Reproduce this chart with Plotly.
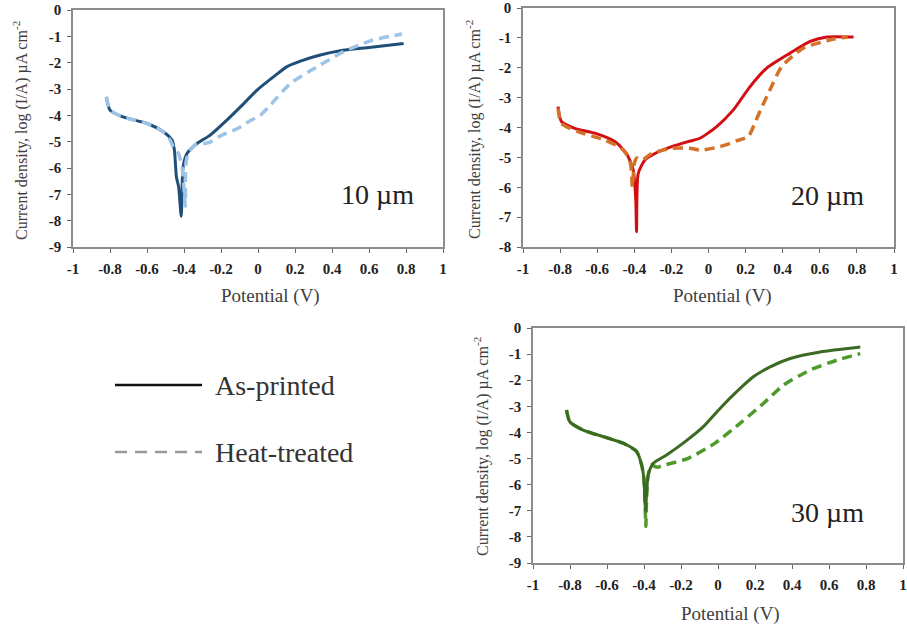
import plotly.graph_objects as go

# ---------------- data ----------------
# Panel 1: 10 um
ap10_x = [-0.82, -0.80, -0.73, -0.60, -0.51, -0.465, -0.452, -0.441, -0.429, -0.415, -0.405, -0.384, -0.33, -0.258, -0.168, -0.095, -0.005, 0.085, 0.157, 0.229, 0.337, 0.445, 0.589, 0.787]
ap10_y = [-3.3, -3.8, -4.06, -4.31, -4.63, -4.94, -5.32, -6.34, -6.72, -7.83, -5.96, -5.45, -5.07, -4.75, -4.18, -3.68, -3.04, -2.53, -2.15, -1.94, -1.71, -1.55, -1.43, -1.27]
ht10_x = [-0.82, -0.80, -0.73, -0.60, -0.51, -0.474, -0.455, -0.43, -0.41, -0.398, -0.393, -0.39, -0.375, -0.339, -0.267, -0.195, -0.11, -0.051, 0.012, 0.067, 0.175, 0.318, 0.463, 0.607, 0.778]
ht10_y = [-3.3, -3.8, -4.06, -4.31, -4.63, -4.95, -5.25, -5.45, -6.0, -7.0, -7.45, -5.83, -5.4, -5.13, -5.04, -4.75, -4.5, -4.24, -4.0, -3.61, -2.79, -2.16, -1.58, -1.17, -0.91]

# Panel 2: 20 um
ap20_x = [-0.811, -0.793, -0.721, -0.613, -0.505, -0.442, -0.406, -0.392, -0.388, -0.379, -0.343, -0.289, -0.199, -0.109, -0.046, 0.044, 0.134, 0.224, 0.314, 0.44, 0.548, 0.638, 0.782]
ap20_y = [-3.30, -3.80, -4.03, -4.19, -4.47, -4.87, -5.42, -6.43, -7.49, -5.54, -5.09, -4.87, -4.64, -4.47, -4.36, -3.97, -3.41, -2.63, -2.01, -1.51, -1.12, -0.97, -0.97]
ht20_x = [-0.811, -0.793, -0.703, -0.559, -0.469, -0.43, -0.418, -0.41, -0.40, -0.385, -0.36, -0.307, -0.199, -0.091, -0.046, 0.062, 0.15, 0.215, 0.25, 0.285, 0.323, 0.395, 0.512, 0.674, 0.75]
ht20_y = [-3.36, -3.86, -4.14, -4.42, -4.70, -5.0, -5.3, -6.0, -5.2, -5.02, -5.1, -4.87, -4.70, -4.70, -4.76, -4.64, -4.45, -4.3, -3.85, -3.35, -2.85, -1.96, -1.34, -1.04, -0.97]

# Panel 3: 30 um
ap30_x = [-0.819, -0.801, -0.729, -0.621, -0.513, -0.44, -0.413, -0.401, -0.395, -0.392, -0.385, -0.377, -0.35, -0.278, -0.188, -0.079, 0.011, 0.101, 0.191, 0.282, 0.39, 0.552, 0.769]
ap30_y = [-3.14, -3.59, -3.91, -4.16, -4.41, -4.73, -5.24, -5.75, -6.64, -7.0, -6.2, -5.62, -5.18, -4.86, -4.41, -3.78, -3.08, -2.44, -1.87, -1.49, -1.17, -0.92, -0.73]
ht30_x = [-0.819, -0.801, -0.729, -0.621, -0.513, -0.44, -0.413, -0.401, -0.395, -0.39, -0.386, -0.377, -0.36, -0.33, -0.29, -0.161, -0.016, 0.119, 0.245, 0.354, 0.498, 0.643, 0.769]
ht30_y = [-3.14, -3.59, -3.91, -4.16, -4.41, -4.73, -5.24, -5.75, -6.64, -7.6, -6.5, -5.62, -5.25, -5.33, -5.25, -4.99, -4.41, -3.65, -2.89, -2.19, -1.61, -1.23, -0.98]

x_tickvals = [-1, -0.8, -0.6, -0.4, -0.2, 0, 0.2, 0.4, 0.6, 0.8, 1]
x_ticktext = ["-1", "-0.8", "-0.6", "-0.4", "-0.2", "0", "0.2", "0.4", "0.6", "0.8", "1"]
y9_tickvals = [0, -1, -2, -3, -4, -5, -6, -7, -8, -9]
y9_ticktext = ["0", "-1", "-2", "-3", "-4", "-5", "-6", "-7", "-8", "-9"]
y8_tickvals = [0, -1, -2, -3, -4, -5, -6, -7, -8]
y8_ticktext = ["0", "-1", "-2", "-3", "-4", "-5", "-6", "-7", "-8"]

panel_labels = ["10 \u00b5m", "20 \u00b5m", "30 \u00b5m"]
legend_labels = ["As-printed", "Heat-treated"]
x_title = "Potential (V)"
y_title = "Current density, log (I/A) \u00b5A cm<sup>-2</sup>"

# ---------------- figure ----------------
W, H = 907, 629
SERIF = '"Liberation Serif", "Times New Roman", Times, serif'

def px(x):
    return x / W
def py(y):
    return 1 - y / H

fig = go.Figure()
DASH = "10px,6px"

def add(xs, ys, color, dash, xa, ya, width=3):
    fig.add_trace(go.Scatter(x=xs, y=ys, mode="lines", xaxis=xa, yaxis=ya,
                             line=dict(color=color, width=width, dash=dash, shape="spline", smoothing=0.6),
                             showlegend=False, hoverinfo="skip"))

add(ap10_x, ap10_y, "#1f4e79", "solid", "x", "y")
add(ht10_x, ht10_y, "#9dc3e6", DASH, "x", "y", 3.5)
add(ap20_x, ap20_y, "#d40d12", "solid", "x2", "y2")
add(ht20_x, ht20_y, "#d4722a", DASH, "x2", "y2", 3.5)
add(ht30_x, ht30_y, "#4f9a2c", DASH, "x3", "y3", 3.5)
add(ap30_x, ap30_y, "#3b6a22", "solid", "x3", "y3")

tickfont = dict(family=SERIF, size=15, color="#222", weight="bold")
common_ax = dict(showline=True, mirror=True, linecolor="#8c8c8c", linewidth=1.5,
                 ticks="outside", ticklen=4, tickcolor="#666", tickwidth=1,
                 showgrid=False, zeroline=False, tickfont=tickfont, fixedrange=True,
                 automargin=False, ticklabelstandoff=3)

panels = [
    dict(xd=[73, 443], yd=[10, 247], yr=[-9, 0], yt=(y9_tickvals, y9_ticktext)),
    dict(xd=[523, 894], yd=[8, 247], yr=[-8, 0], yt=(y8_tickvals, y8_ticktext)),
    dict(xd=[533, 903], yd=[328, 563], yr=[-9, 0], yt=(y9_tickvals, y9_ticktext)),
]
for i, p in enumerate(panels):
    sfx = "" if i == 0 else str(i + 1)
    fig.layout["xaxis" + sfx] = dict(common_ax, domain=[px(p["xd"][0]), px(p["xd"][1])], range=[-1, 1],
                                     tickvals=x_tickvals, ticktext=x_ticktext,
                                     anchor="y" + sfx)
    fig.layout["yaxis" + sfx] = dict(common_ax, domain=[py(p["yd"][1]), py(p["yd"][0])], range=p["yr"],
                                     tickvals=p["yt"][0], ticktext=p["yt"][1],
                                     anchor="x" + sfx)

annotations = []
title_font = dict(family=SERIF, size=19, color="#404040")
ytitle_font = dict(family=SERIF, size=16, color="#404040")
# x titles
for (cx, cy) in [(270, 296), (722, 296), (730, 614)]:
    annotations.append(dict(text=x_title, x=px(cx), y=py(cy), xref="paper", yref="paper",
                            showarrow=False, font=title_font, xanchor="center", yanchor="middle"))
# y titles
for (cx, cy) in [(20, 131), (473, 129), (482, 447)]:
    annotations.append(dict(text=y_title, x=px(cx), y=py(cy), xref="paper", yref="paper",
                            showarrow=False, font=ytitle_font, textangle=-90,
                            xanchor="center", yanchor="middle"))
# panel labels
for lbl, (cx, cy) in zip(panel_labels, [(377, 194), (827, 195), (827, 512)]):
    annotations.append(dict(text=lbl, x=px(cx), y=py(cy), xref="paper", yref="paper",
                            showarrow=False, font=dict(family=SERIF, size=28, color="#222"),
                            xanchor="center", yanchor="middle"))
# legend labels
for lbl, cy in zip(legend_labels, [385, 452]):
    annotations.append(dict(text=lbl, x=px(213), y=py(cy), xref="paper", yref="paper",
                            showarrow=False, font=dict(family=SERIF, size=28, color="#333"),
                            xanchor="left", yanchor="middle"))

shapes = [
    dict(type="line", xref="paper", yref="paper", x0=px(115), x1=px(202), y0=py(385), y1=py(385),
         line=dict(color="#111", width=2.5)),
    dict(type="line", xref="paper", yref="paper", x0=px(115), x1=px(202), y0=py(452), y1=py(452),
         line=dict(color="#999", width=2.5, dash="12px,8px")),
]

fig.update_layout(template="none", width=W, height=H, margin=dict(l=0, r=0, t=0, b=0, autoexpand=False),
                  paper_bgcolor="white", plot_bgcolor="white",
                  annotations=annotations, shapes=shapes, showlegend=False)

fig.write_html("out.html", config={"displayModeBar": False},
               post_script="document.body.style.margin='0';document.body.style.padding='0';document.body.style.overflow='hidden';")
